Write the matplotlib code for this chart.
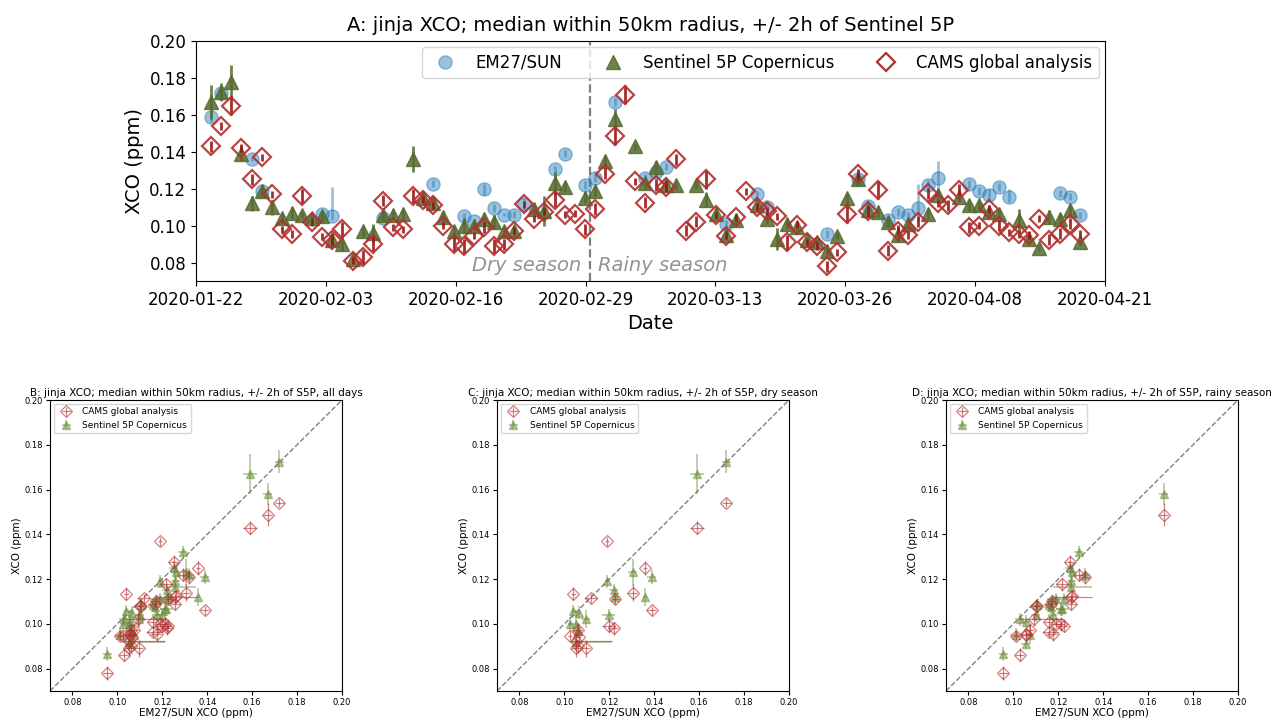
import numpy as np
import pandas as pd
import matplotlib
matplotlib.use("Agg")
import matplotlib.pyplot as plt
import matplotlib.dates as mdates
from matplotlib.lines import Line2D

nan = np.nan

# ---------------- data (daily, from 2020-01-23) ----------------
first_day = "2020-01-23"
season_split = "2020-03-01"
x_start, x_end = "2020-01-22", "2020-04-21"

em27 = [0.159, 0.172, nan, nan, 0.136, 0.119, nan, nan, nan, nan,
        nan, 0.1065, 0.105, nan, nan, nan, nan, 0.104, nan, nan,
        nan, nan, 0.1227, nan, nan, 0.105, 0.1025, 0.1197, 0.1096, 0.106,
        0.106, 0.1117, nan, nan, 0.1304, 0.139, nan, 0.122, 0.1258, nan,
        0.167, nan, nan, 0.126, 0.129, 0.132, nan, nan, nan, nan,
        nan, 0.101, nan, nan, 0.117, 0.110, nan, nan, nan, nan,
        nan, 0.0955, nan, nan, 0.125, 0.1106, nan, 0.1029, 0.1074, 0.1056,
        0.1093, 0.1218, 0.1258, nan, nan, 0.1225, 0.1188, 0.1166, 0.121, 0.1157,
        nan, nan, nan, nan, 0.1175, 0.1157, 0.1056]
em27_err_lo = [0.003, 0.002, nan, nan, 0.001, 0.001, nan, nan, nan, nan,
               nan, 0.001, 0.002, nan, nan, nan, nan, 0.001, nan, nan,
               nan, nan, 0.002, nan, nan, 0.002, 0.001, 0.003, 0.002, 0.001,
               0.002, 0.003, nan, nan, 0.002, 0.002, nan, 0.002, 0.002, nan,
               0.002, nan, nan, 0.002, 0.002, 0.002, nan, nan, nan, nan,
               nan, 0.002, nan, nan, 0.002, 0.002, nan, nan, nan, nan,
               nan, 0.002, nan, nan, 0.002, 0.002, nan, 0.002, 0.002, 0.002,
               0.007, 0.003, 0.008, nan, nan, 0.002, 0.002, 0.003, 0.002, 0.003,
               nan, nan, nan, nan, 0.002, 0.002, 0.002]
em27_err_hi = [0.003, 0.002, nan, nan, 0.001, 0.001, nan, nan, nan, nan,
               nan, 0.001, 0.016, nan, nan, nan, nan, 0.001, nan, nan,
               nan, nan, 0.002, nan, nan, 0.002, 0.001, 0.003, 0.002, 0.001,
               0.002, 0.003, nan, nan, 0.002, 0.002, nan, 0.002, 0.002, nan,
               0.002, nan, nan, 0.002, 0.002, 0.002, nan, nan, nan, nan,
               nan, 0.002, nan, nan, 0.002, 0.002, nan, nan, nan, nan,
               nan, 0.002, nan, nan, 0.002, 0.002, nan, 0.002, 0.002, 0.002,
               0.013, 0.003, 0.009, nan, nan, 0.002, 0.002, 0.003, 0.002, 0.004,
               nan, nan, nan, nan, 0.002, 0.002, 0.002]

s5p = [0.167, 0.1725, 0.178, 0.139, 0.112, 0.119, 0.110, 0.104, 0.107, 0.106,
       0.104, 0.105, 0.092, 0.090, 0.082, 0.097, 0.096, 0.1056, 0.106, 0.1065,
       0.136, 0.115, 0.112, 0.1047, 0.097, 0.100, 0.100, 0.1038, 0.102, 0.097,
       0.097, nan, 0.109, 0.108, 0.123, 0.121, nan, 0.115, 0.119, 0.135,
       0.158, nan, 0.143, 0.123, 0.132, 0.122, 0.122, nan, 0.122, 0.114,
       0.1065, 0.095, 0.103, nan, 0.111, 0.1038, 0.0927, 0.101, 0.099, 0.092,
       0.091, 0.0865, 0.0946, 0.1148, 0.125, 0.1083, 0.1074, 0.102, 0.095, 0.101,
       nan, 0.1065, 0.1166, nan, 0.1157, 0.111, 0.111, 0.1074, 0.1065, nan,
       0.103, 0.0927, 0.088, 0.1047, 0.1038, 0.1083, 0.091]
s5p_err = [0.009, 0.005, 0.009, 0.004, 0.004, 0.003, 0.004, 0.003, 0.003, 0.002,
           0.003, 0.003, 0.004, 0.004, 0.002, 0.003, 0.005, 0.003, 0.003, 0.003,
           0.007, 0.003, 0.003, 0.003, 0.003, 0.004, 0.003, 0.003, 0.004, 0.003,
           0.003, nan, 0.003, 0.008, 0.006, 0.003, nan, 0.003, 0.003, 0.003,
           0.005, nan, 0.002, 0.003, 0.003, 0.003, 0.002, nan, 0.002, 0.004,
           0.003, 0.003, 0.003, nan, 0.002, 0.003, 0.006, 0.003, 0.002, 0.002,
           0.002, 0.003, 0.002, 0.003, 0.003, 0.003, 0.003, 0.003, 0.004, 0.003,
           nan, 0.003, 0.003, nan, 0.003, 0.003, 0.003, 0.003, 0.003, nan,
           0.006, 0.003, 0.002, 0.004, 0.003, 0.003, 0.002]

cams = [0.143, 0.154, 0.165, 0.142, 0.125, 0.137, 0.117, 0.098, 0.0955, 0.116,
        0.102, 0.094, 0.0924, 0.098, 0.081, 0.083, 0.090, 0.1135, 0.099, 0.098,
        0.116, 0.114, 0.111, 0.100, 0.090, 0.089, 0.0946, 0.0992, 0.089, 0.090,
        0.0973, 0.1115, 0.1038, 0.1075, 0.114, 0.106, 0.1065, 0.098, 0.109, 0.128,
        0.1488, 0.171, 0.124, 0.1124, 0.122, 0.121, 0.136, 0.0973, 0.102, 0.125,
        0.1055, 0.0946, 0.1045, 0.1185, 0.110, 0.108, 0.105, 0.091, 0.1005, 0.091,
        0.089, 0.078, 0.0855, 0.1065, 0.1277, 0.1078, 0.1194, 0.0863, 0.0973, 0.0949,
        0.102, 0.1176, 0.112, 0.111, 0.1194, 0.0992, 0.100, 0.109, 0.100, 0.0964,
        0.0955, 0.095, 0.1038, 0.0923, 0.0955, 0.101, 0.0955]
cams_err = [0.003, 0.002, 0.005, 0.002, 0.003, 0.002, 0.002, 0.002, 0.002, 0.004,
            0.002, 0.002, 0.003, 0.004, 0.002, 0.004, 0.004, 0.003, 0.002, 0.002,
            0.004, 0.002, 0.002, 0.002, 0.004, 0.004, 0.002, 0.003, 0.004, 0.003,
            0.002, 0.002, 0.002, 0.002, 0.004, 0.002, 0.002, 0.003, 0.003, 0.003,
            0.005, 0.005, 0.002, 0.003, 0.003, 0.003, 0.003, 0.003, 0.003, 0.005,
            0.002, 0.002, 0.002, 0.002, 0.002, 0.002, 0.002, 0.004, 0.002, 0.002,
            0.002, 0.003, 0.002, 0.005, 0.003, 0.003, 0.005, 0.003, 0.003, 0.002,
            0.003, 0.003, 0.002, 0.003, 0.003, 0.003, 0.002, 0.002, 0.003, 0.002,
            0.002, 0.002, 0.002, 0.003, 0.003, 0.003, 0.002]

ytick_vals = [0.08, 0.10, 0.12, 0.14, 0.16, 0.18, 0.20]

title_A = "A: jinja XCO; median within 50km radius, +/- 2h of Sentinel 5P"
titles_scatter = ["B: jinja XCO; median within 50km radius, +/- 2h of S5P, all days",
                  "C: jinja XCO; median within 50km radius, +/- 2h of S5P, dry season",
                  "D: jinja XCO; median within 50km radius, +/- 2h of S5P, rainy season"]
label_em27 = "EM27/SUN"
label_s5p = "Sentinel 5P Copernicus"
label_cams = "CAMS global analysis"

# ---------------- prepare ----------------
dates = pd.date_range(first_day, periods=len(em27), freq="D") + pd.Timedelta(hours=12)
em27 = np.array(em27); s5p = np.array(s5p); cams = np.array(cams)
em27_err = np.vstack([em27_err_lo, em27_err_hi])
s5p_err = np.array(s5p_err); cams_err = np.array(cams_err)
split = pd.Timestamp(season_split)

c_em = "#1f77b4"
c_s5p = "#556b2f"
c_cams = "#b23030"
c_cams_bar = "#9e1515"

W, H = 1272, 722
fig = plt.figure(figsize=(W / 100, H / 100), dpi=100)

# ---------------- panel A ----------------
axA = fig.add_axes([196 / W, 1 - 281 / H, 909 / W, 240 / H])
axA.errorbar(dates, em27, yerr=em27_err, fmt="o", color=c_em, alpha=0.45,
             ms=9.5, elinewidth=2, capsize=0, zorder=2)
axA.errorbar(dates, s5p, yerr=s5p_err, fmt="^", color=c_s5p, alpha=0.85,
             ms=9.5, elinewidth=2, capsize=0, zorder=3)
axA.errorbar(dates, cams, yerr=cams_err, fmt="D", mfc="none", mec=c_cams,
             mew=1.6, ms=9, ecolor=c_cams_bar, elinewidth=2, capsize=0,
             alpha=0.9, zorder=4)
axA.axvline(split, color="gray", ls="--", lw=1.6, zorder=1)

x0 = mdates.date2num(pd.Timestamp(x_start))
x1 = mdates.date2num(pd.Timestamp(x_end))
axA.set_xlim(x0, x1)
ticks = np.linspace(x0, x1, 8)
axA.set_xticks(ticks)
axA.set_xticklabels([mdates.num2date(t).strftime("%Y-%m-%d") for t in ticks], fontsize=12)
axA.set_ylim(0.07, 0.2)
axA.set_yticks(ytick_vals)
axA.set_yticklabels([f"{v:.2f}" for v in ytick_vals], fontsize=12)
axA.set_xlabel("Date", fontsize=14)
axA.set_ylabel("XCO (ppm)", fontsize=14)
axA.set_title(title_A, fontsize=14, pad=7)

axA.text(split - pd.Timedelta(hours=20), 0.0785, "Dry season", ha="right", va="center",
         style="italic", color="gray", fontsize=14, alpha=0.85)
axA.text(split + pd.Timedelta(hours=20), 0.0785, "Rainy season", ha="left", va="center",
         style="italic", color="gray", fontsize=14, alpha=0.85)

handles = [Line2D([], [], ls="none", marker="o", color=c_em, alpha=0.45, ms=9.5),
           Line2D([], [], ls="none", marker="^", color=c_s5p, alpha=0.85, ms=9.5),
           Line2D([], [], ls="none", marker="D", mfc="none", mec=c_cams, mew=1.6, ms=9)]
axA.legend(handles, [label_em27, label_s5p, label_cams], loc="upper right", ncol=3,
           fontsize=12, columnspacing=2.1, borderaxespad=0.35)

# ---------------- panels B, C, D ----------------
masks = [np.ones(len(dates), bool), dates < split, dates >= split]
lefts = [50, 497, 946]
for left, title, m in zip(lefts, titles_scatter, masks):
    ax = fig.add_axes([left / W, 1 - 691 / H, 292 / W, 291 / H])
    ax.plot([0.07, 0.2], [0.07, 0.2], ls="--", color="gray", lw=1, zorder=1)
    ok = m & ~np.isnan(em27)
    okc = ok & ~np.isnan(cams)
    oks = ok & ~np.isnan(s5p)
    ax.errorbar(em27[okc], cams[okc], xerr=em27_err[:, okc], yerr=cams_err[okc],
                fmt="D", mfc="none", mec=c_cams, ecolor=c_cams, ms=6, mew=0.9,
                elinewidth=0.9, alpha=0.6, label=label_cams, zorder=3)
    ax.errorbar(em27[oks], s5p[oks], xerr=em27_err[:, oks], yerr=s5p_err[oks],
                fmt="^", color="#6b8e3a", ms=6, elinewidth=1.2, alpha=0.5,
                label=label_s5p, zorder=2)
    ax.set_xlim(0.07, 0.2)
    ax.set_ylim(0.07, 0.2)
    ax.set_xticks(ytick_vals)
    ax.set_yticks(ytick_vals)
    ax.set_xticklabels([f"{v:.2f}" for v in ytick_vals], fontsize=6)
    ax.set_yticklabels([f"{v:.2f}" for v in ytick_vals], fontsize=6)
    ax.tick_params(length=3, pad=2)
    ax.set_xlabel("EM27/SUN XCO (ppm)", fontsize=7.5, labelpad=1)
    ax.set_ylabel("XCO (ppm)", fontsize=7.5, labelpad=2)
    ax.set_title(title, fontsize=7.5, pad=3)
    ax.legend(loc="upper left", fontsize=6.5, borderaxespad=0.4)

fig.savefig("out.png", dpi=100)
